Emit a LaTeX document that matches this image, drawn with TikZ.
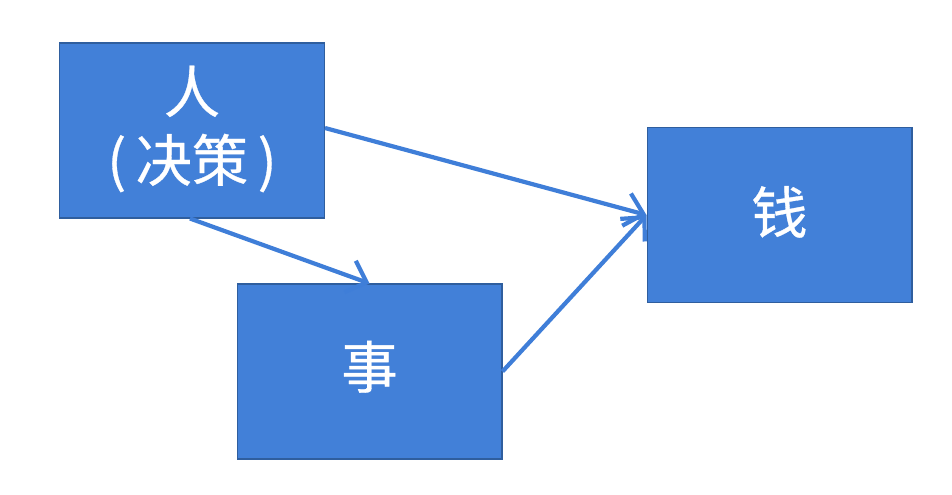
\documentclass[tikz,border=0pt]{standalone}
\usepackage{fontspec}
\setmainfont{Noto Sans CJK SC}[FakeBold=0.6]
\usetikzlibrary{arrows.meta}
\definecolor{boxblue}{HTML}{4280D8}
\definecolor{edgeblue}{HTML}{2F5E9E}
\definecolor{arrowblue}{HTML}{3F7ED8}

\begin{document}
\begin{tikzpicture}[x=0.02cm, y=-0.02cm, >={Straight Barb[length=10pt, width=19pt, line width=2.4pt]}]
  % Page frame
  \useasboundingbox (0,0) rectangle (952,494);

  \tikzset{
    block/.style={draw=edgeblue, line width=0.6pt, fill=boxblue, text=white,
      minimum width=5.3cm, minimum height=3.5cm, align=center,
      font=\fontsize{32pt}{39pt}\selectfont, inner sep=0pt},
    link/.style={->, line width=2.4pt, arrowblue}
  }

  % Boxes
  \node[block, text depth=8pt] (ren)  at (192,130.5) {人\\(\hspace{0.17em}决策\hspace{0.17em})};
  \node[block, text depth=8pt] (shi)  at (369.5,371.5) {事};
  \node[block, text depth=6pt] (qian) at (779.5,215) {钱};

  % Arrows
  \draw[link] (ren.east) ++(0,-2.5) -- (qian.west);
  \draw[link] (ren.south) ++(-2,0) -- (shi.north);
  \draw[link] (shi.east) -- (qian.west);
\end{tikzpicture}
\end{document}
